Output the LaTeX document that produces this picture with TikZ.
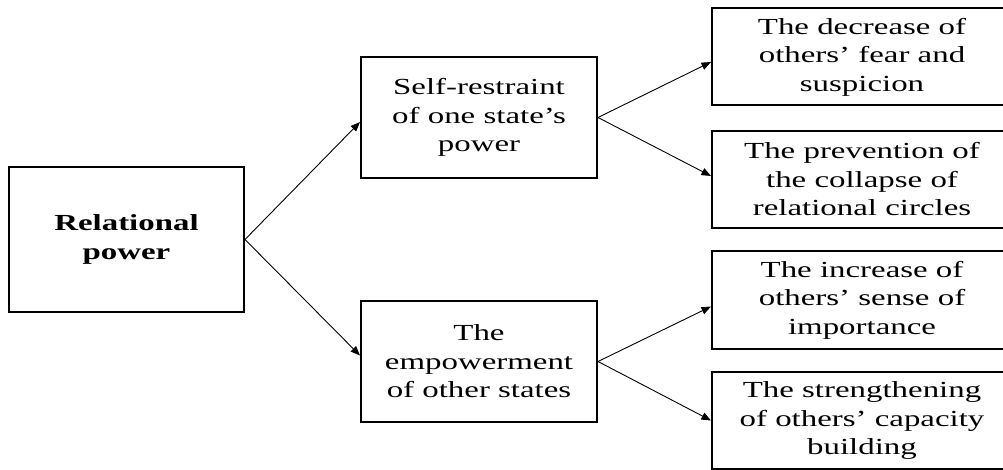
\documentclass[tikz,border=0pt]{standalone}
\usepackage{fontspec}
\setmainfont{Liberation Serif}[FakeStretch=1.43]
\usetikzlibrary{arrows.meta}
\begin{document}
\begin{tikzpicture}[x=1pt,y=-1pt,
  box/.style={draw=black,line width=2pt,inner sep=0pt,align=center,
    font=\fontsize{23pt}{28.5pt}\selectfont},
  midbox/.style={box,minimum width=236pt,minimum height=121pt},
  outbox/.style={box,minimum width=300pt,minimum height=97pt},
  link/.style={line width=0.9pt,-{Triangle[length=9.5pt,width=7.5pt]}}]
\useasboundingbox (0,0) rectangle (1003,470);
\clip (0,0) rectangle (1003,470);

% root
\node[box,minimum width=235pt,minimum height=145pt,font=\fontsize{23pt}{28.5pt}\selectfont\bfseries]
  (rp) at (126.5,239.5) {Relational\\power};

% second level
\node[midbox] (sr) at (479,117.5) {Self-restraint\\of one state’s\\power};
\node[midbox] (em) at (479,361.5) {The\\empowerment\\of other states};

% outcomes (their right edges run past the page)
\node[outbox] (o1) at (862,57)    {The decrease of\\others’ fear and\\suspicion};
\node[outbox] (o2) at (862,179.5) {The prevention of\\the collapse of\\relational circles};
\node[outbox] (o3) at (862,300)   {The increase of\\others’ sense of\\importance};
\node[outbox] (o4) at (862,420.5) {The strengthening\\of others’ capacity\\building};

% connectors
\draw[link] (rp.east) -- ([yshift=-4.5pt]sr.west);
\draw[link] (rp.east) -- ([yshift=6pt]em.west);
\draw[link] (sr.east) -- ([yshift=-5pt]o1.west);
\draw[link] (sr.east) -- ([yshift=3.5pt]o2.west);
\draw[link] (em.east) -- ([yshift=-6.5pt]o3.west);
\draw[link] (em.east) -- ([yshift=0pt]o4.west);
\end{tikzpicture}
\end{document}
